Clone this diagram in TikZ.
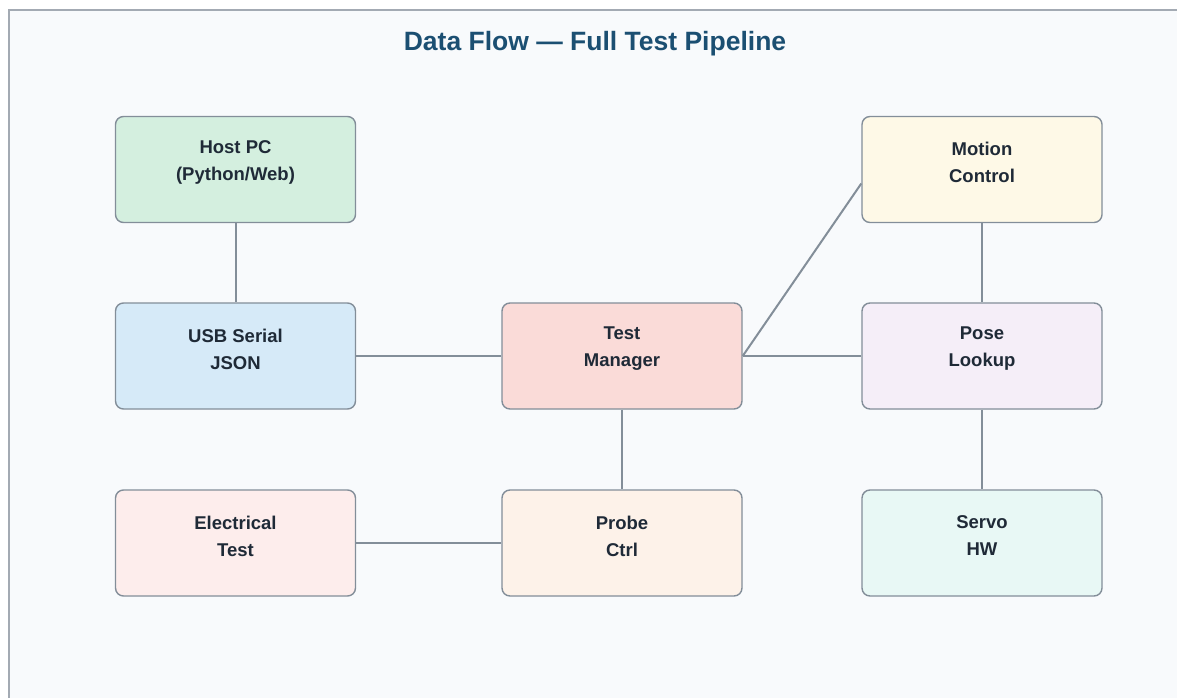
\documentclass[tikz,border=0pt]{standalone}
\usepackage{fontspec}
\setmainfont{Liberation Sans}
\usetikzlibrary{positioning,calc}
\definecolor{ink}{HTML}{1F2A37}
\definecolor{titlec}{HTML}{1B4F72}
\definecolor{edgec}{HTML}{838E99}
\definecolor{framec}{HTML}{A3AAB3}
\definecolor{pagebg}{HTML}{F8FAFC}
\definecolor{hostc}{HTML}{D4EFDF}
\definecolor{usbc}{HTML}{D6EAF8}
\definecolor{mgrc}{HTML}{FADBD8}
\definecolor{motc}{HTML}{FEF9E7}
\definecolor{posec}{HTML}{F5EEF8}
\definecolor{elecc}{HTML}{FDEDEC}
\definecolor{probc}{HTML}{FDF2E9}
\definecolor{servc}{HTML}{E8F8F5}
\tikzset{
  box/.style={draw=edgec,line width=1.4pt,rounded corners=8pt,minimum width=240pt,minimum height=106pt,inner sep=0pt},
  txt/.style={align=center,font=\fontsize{18.5}{27}\selectfont\bfseries,text=ink,yshift=7pt},
  ln/.style={draw=edgec,line width=2pt},
}
\begin{document}
\begin{tikzpicture}[x=1pt,y=-1pt]
  \useasboundingbox (0,0) rectangle (1177,698);
  \clip (0,0) rectangle (1177,698);
  \draw[fill=pagebg,draw=framec,line width=2pt] (9,10) rectangle (1200,720);
  \node[font=\fontsize{26.5}{30}\selectfont\bfseries,text=titlec] (title) at (595,43.5) {Data Flow — Full Test Pipeline};
  % left column
  \node[box,fill=hostc,label={[txt]center:Host PC\\(Python/Web)}] (host) at (235.5,169.5) {};
  \node[box,fill=usbc,label={[txt]center:USB Serial\\JSON}] (usb) at (235.5,356) {};
  \node[box,fill=elecc,label={[txt]center:Electrical\\Test}] (elec) at (235.5,543) {};
  % middle column
  \node[box,fill=mgrc,label={[txt]center:Test\\Manager}] (mgr) at (622,356) {};
  \node[box,fill=probc,label={[txt]center:Probe\\Ctrl}] (probe) at (622,543) {};
  % right column
  \node[box,fill=motc,label={[txt]center:Motion\\Control}] (motion) at (982,169.5) {};
  \node[box,fill=posec,label={[txt]center:Pose\\Lookup}] (pose) at (982,356) {};
  \node[box,fill=servc,label={[txt]center:Servo\\HW}] (servo) at (982,543) {};
  % links
  \draw[ln] (host) -- (usb);
  \draw[ln] (usb) -- (mgr);
  \draw[ln] (mgr) -- (pose);
  \draw[ln] (mgr.east) -- ($(motion.west)+(0,14)$);
  \draw[ln] (motion) -- (pose);
  \draw[ln] (pose) -- (servo);
  \draw[ln] (mgr) -- (probe);
  \draw[ln] (elec) -- (probe);
\end{tikzpicture}
\end{document}
